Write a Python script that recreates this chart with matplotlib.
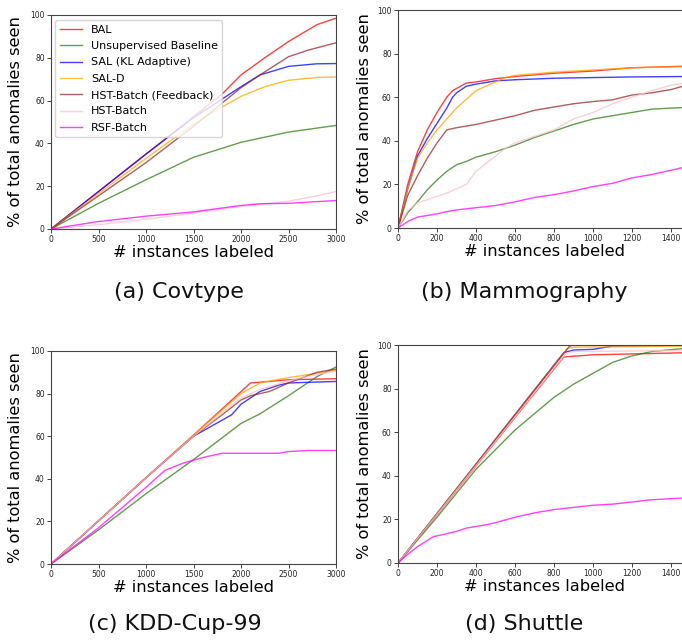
import numpy as np
import matplotlib as mpl
mpl.use('Agg')
from matplotlib import pyplot as plt

# legend tags and colours, same order for every panel
legends = ["BAL", "Unsupervised Baseline", "SAL (KL Adaptive)", "SAL-D",
           "HST-Batch (Feedback)", "HST-Batch", "RSF-Batch"]
colo = ['red', '#2e7d12', 'blue', 'orange', '#982828', 'pink', 'magenta']

# (a) Covtype
cov_bal_x = [0, 500, 1000, 1500, 1800, 2000, 2250, 2500, 2800, 3000]
cov_bal_y = [0, 17.5, 35, 52.5, 63, 72, 80, 87.6, 95.5, 98.5]
cov_uns_x = [0, 500, 1000, 1500, 2000, 2500, 3000]
cov_uns_y = [0, 12, 23, 33.5, 40.5, 45.3, 48.4]
cov_sal_x = [0, 500, 1000, 1500, 2000, 2200, 2500, 2800, 3000]
cov_sal_y = [0, 17.5, 35, 52, 66.5, 72, 76, 77.2, 77.3]
cov_sald_x = [0, 500, 1000, 1500, 1800, 2000, 2250, 2500, 2800, 3000]
cov_sald_y = [0, 16.5, 33, 49, 57, 62, 66.5, 69.5, 70.8, 71]
cov_hstf_x = [0, 500, 1000, 1500, 2000, 2200, 2500, 2700, 3000]
cov_hstf_y = [0, 15.5, 31, 48, 66, 72, 80.5, 83.5, 87]
cov_hst_x = [0, 500, 1000, 1500, 2000, 2500, 2800, 3000]
cov_hst_y = [0, 2, 4.5, 7.5, 10.5, 13, 15.5, 17.5]
cov_rsf_x = [0, 500, 1000, 1500, 2000, 2200, 2500, 2800, 3000]
cov_rsf_y = [0, 3.5, 6, 8, 11, 11.8, 12, 12.8, 13.3]

# (b) Mammography
mam_bal_x = [0, 25, 50, 100, 150, 200, 250, 280, 300, 350, 400, 500, 600, 800, 1000, 1200, 1500]
mam_bal_y = [0, 10, 20, 35, 45, 53, 60, 63, 64, 66.5, 67, 68.5, 69.5, 71, 72, 73.5, 74.3]
mam_uns_x = [0, 50, 100, 150, 200, 250, 300, 350, 400, 500, 600, 700, 800, 900, 1000, 1100, 1200, 1300, 1400, 1500]
mam_uns_y = [0, 7, 12, 17.5, 22, 26, 29, 30.5, 32.5, 35, 38, 41.5, 44.5, 47.5, 50, 51.5, 53, 54.5, 55, 55.4]
mam_sal_x = [0, 50, 100, 150, 200, 250, 280, 300, 350, 400, 500, 600, 800, 1000, 1200, 1500]
mam_sal_y = [0, 18, 33, 41, 48, 55, 60, 62, 65, 66, 67.5, 68, 68.7, 69, 69.3, 69.5]
mam_sald_x = [0, 50, 100, 150, 200, 250, 300, 350, 400, 450, 500, 550, 600, 800, 1000, 1200, 1500]
mam_sald_y = [0, 18, 32, 39, 45, 50, 55, 59, 63, 65, 67, 69, 70, 71.5, 72.5, 73.5, 74]
mam_hstf_x = [0, 50, 100, 150, 200, 250, 300, 400, 500, 600, 700, 800, 900, 1000, 1100, 1200, 1300, 1400, 1500]
mam_hstf_y = [0, 15, 24, 32, 39, 45, 46, 47.5, 49.5, 51.5, 54, 55.5, 57, 58, 58.8, 61, 62, 63.5, 66]
mam_hst_x = [0, 50, 100, 150, 200, 250, 300, 350, 400, 450, 500, 550, 600, 700, 800, 900, 1000, 1100, 1200, 1300, 1400, 1500]
mam_hst_y = [0, 8, 11.5, 13, 14.5, 16, 18, 20, 26, 29.5, 33, 36.5, 39, 42, 45, 50, 53, 57, 60, 63, 65.5, 67]
mam_rsf_x = [0, 50, 100, 200, 250, 300, 400, 500, 600, 700, 800, 900, 1000, 1100, 1200, 1300, 1400, 1500]
mam_rsf_y = [0, 3, 5, 6.5, 7.5, 8.3, 9.3, 10.3, 12, 14, 15.3, 17, 19, 20.5, 23, 24.5, 26.5, 28.5]

# (c) KDD-Cup-99
kdd_bal_x = [0, 1000, 1500, 2100, 2500, 3000]
kdd_bal_y = [0, 40.5, 60.5, 85, 86.5, 87]
kdd_uns_x = [0, 500, 1000, 1500, 2000, 2200, 2500, 2800, 3000]
kdd_uns_y = [0, 16, 33, 49, 66, 70.5, 79, 88, 92.5]
kdd_sal_x = [0, 1000, 1500, 1700, 1900, 2000, 2200, 2400, 2500, 3000]
kdd_sal_y = [0, 40.5, 60, 65, 70, 75, 81, 84, 85, 85.7]
kdd_sald_x = [0, 1000, 1500, 2000, 2200, 2500, 2800, 3000]
kdd_sald_y = [0, 40.5, 60.5, 80, 85, 87.5, 89.5, 91]
kdd_hstf_x = [0, 1000, 1500, 1800, 2000, 2100, 2300, 2500, 2800, 3000]
kdd_hstf_y = [0, 40.5, 60, 70, 77, 79, 81, 85, 90, 91.5]
kdd_hst_x = [0, 1000, 1500, 2000, 2200, 2500, 2800, 3000]
kdd_hst_y = [0, 40.5, 60, 78, 82, 86, 89, 90.5]
kdd_rsf_x = [0, 500, 1000, 1200, 1400, 1600, 1800, 2400, 2500, 2700, 3000]
kdd_rsf_y = [0, 17, 36, 44, 47.5, 50, 52, 52, 52.8, 53.3, 53.3]

# (d) Shuttle
shu_bal_x = [0, 850, 1000, 1500]
shu_bal_y = [0, 94.5, 95.5, 96.5]
shu_uns_x = [0, 200, 400, 600, 800, 900, 1000, 1100, 1200, 1300, 1500]
shu_uns_y = [0, 21, 43, 61, 76, 82, 87, 92, 95, 97, 98.7]
shu_sal_x = [0, 850, 900, 1000, 1100, 1500]
shu_sal_y = [0, 96.5, 97.7, 98, 99.5, 100]
shu_sald_x = [0, 870, 900, 1500]
shu_sald_y = [0, 98.5, 99, 99.5]
shu_hstf_x = [0, 880, 900, 1500]
shu_hstf_y = [0, 99.5, 100, 100]
shu_hst_x = [0, 860, 900, 1500]
shu_hst_y = [0, 96, 97, 97.5]
shu_rsf_x = [0, 50, 100, 180, 300, 350, 450, 500, 600, 700, 800, 900, 1000, 1100, 1200, 1300, 1500]
shu_rsf_y = [0, 4, 7.5, 12, 14.5, 16, 17.5, 18.5, 21, 23, 24.5, 25.5, 26.5, 27, 28, 29, 30]

panels = [
  ([cov_bal_x, cov_uns_x, cov_sal_x, cov_sald_x, cov_hstf_x, cov_hst_x, cov_rsf_x],
   [cov_bal_y, cov_uns_y, cov_sal_y, cov_sald_y, cov_hstf_y, cov_hst_y, cov_rsf_y]),
  ([mam_bal_x, mam_uns_x, mam_sal_x, mam_sald_x, mam_hstf_x, mam_hst_x, mam_rsf_x],
   [mam_bal_y, mam_uns_y, mam_sal_y, mam_sald_y, mam_hstf_y, mam_hst_y, mam_rsf_y]),
  ([kdd_bal_x, kdd_uns_x, kdd_sal_x, kdd_sald_x, kdd_hstf_x, kdd_hst_x, kdd_rsf_x],
   [kdd_bal_y, kdd_uns_y, kdd_sal_y, kdd_sald_y, kdd_hstf_y, kdd_hst_y, kdd_rsf_y]),
  ([shu_bal_x, shu_uns_x, shu_sal_x, shu_sald_x, shu_hstf_x, shu_hst_x, shu_rsf_x],
   [shu_bal_y, shu_uns_y, shu_sal_y, shu_sald_y, shu_hstf_y, shu_hst_y, shu_rsf_y]),
]
captions = ["(a) Covtype", "(b) Mammography", "(c) KDD-Cup-99", "(d) Shuttle"]
xmax = [3000, 1500, 3000, 1500]
xticks = [[0, 500, 1000, 1500, 2000, 2500, 3000],
          list(range(0, 1500, 200)),
          [0, 500, 1000, 1500, 2000, 2500, 3000],
          list(range(0, 1500, 200))]

W, H = 682., 642.
# axes boxes in pixels: left, top, right, bottom (right panels run off the page)
boxes = [(51, 15, 336, 229), (398, 10, 690.5, 228),
         (51, 351, 336, 564), (398, 345, 690.5, 563)]
cap_pos = [(179, 292), (524, 292), (175, 624), (524, 624)]

fig = plt.figure(figsize=(W / 100, H / 100), dpi=100)

for k in range(4):
  l, t, r, b = boxes[k]
  ax = fig.add_axes([l / W, 1 - b / H, (r - l) / W, (b - t) / H])
  xs, ys = panels[k]
  for j in range(len(legends)):
    ax.plot(xs[j], ys[j], color=colo[j], linewidth=1.0, alpha=0.75, label=legends[j])
  ax.set_xlim(0, xmax[k])
  ax.set_ylim(0, 100)
  ax.set_xticks(xticks[k])
  ax.set_yticks([0, 20, 40, 60, 80, 100])
  ax.tick_params(labelsize=5.5, length=3, width=0.6, pad=1.5, colors='#222222')
  for s in ax.spines.values():
    s.set_color('#444444')
    s.set_linewidth(0.8)
  ax.set_xlabel("# instances labeled", fontsize=11.7)
  ax.set_ylabel("% of total anomalies seen", fontsize=11.7)
  if k % 2 == 0:
    ax.xaxis.set_label_coords(0.5, -0.075)
    ax.yaxis.set_label_coords(-0.098, 0.5)
  else:
    ax.xaxis.set_label_coords(0.5, -0.075)
    ax.yaxis.set_label_coords(-0.089, 0.5)
  if k == 0:
    ax.legend(loc='upper left', bbox_to_anchor=(0.015, 0.975), fontsize=8,
              labelspacing=0.57, handlelength=2.0, framealpha=0.8,
              borderaxespad=0.0)
  fig.text(cap_pos[k][0] / W, 1 - cap_pos[k][1] / H, captions[k],
           fontsize=16, ha='center', va='center', color='#111111')

fig.savefig("out.png", dpi=100)
